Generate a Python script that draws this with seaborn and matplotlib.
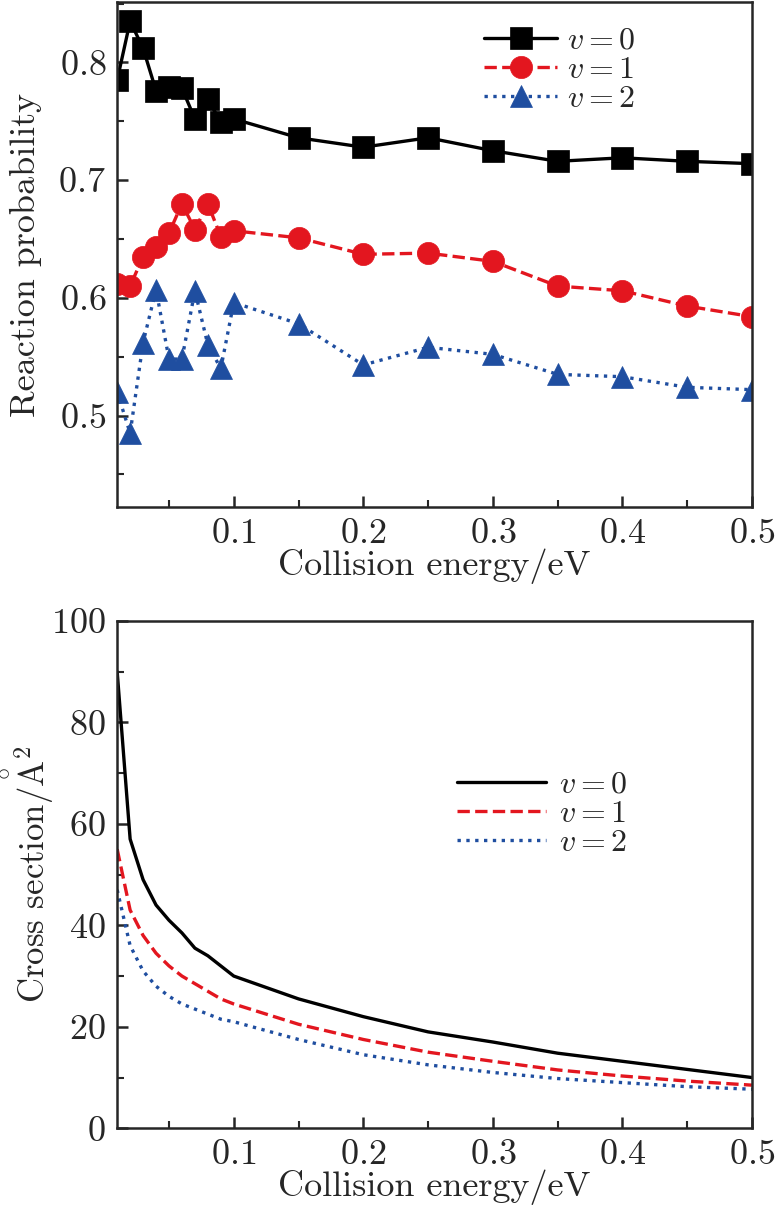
import numpy as np
import pandas as pd
import matplotlib
matplotlib.use('Agg')
import matplotlib.pyplot as plt
from matplotlib.ticker import MultipleLocator
import seaborn as sns

# collision energies (eV)
energy = [0.01, 0.02, 0.03, 0.04, 0.05, 0.06, 0.07, 0.08, 0.09, 0.10,
          0.15, 0.20, 0.25, 0.30, 0.35, 0.40, 0.45, 0.50]

# reaction probability, top panel
prob_v0 = [0.785, 0.835, 0.812, 0.776, 0.779, 0.778, 0.752, 0.769, 0.749, 0.752,
           0.736, 0.728, 0.736, 0.725, 0.716, 0.719, 0.716, 0.714]
prob_v1 = [0.612, 0.610, 0.635, 0.643, 0.655, 0.680, 0.658, 0.680, 0.652, 0.657,
           0.651, 0.637, 0.638, 0.631, 0.610, 0.606, 0.593, 0.584]
prob_v2 = [0.520, 0.485, 0.562, 0.607, 0.548, 0.548, 0.606, 0.560, 0.540, 0.596,
           0.578, 0.543, 0.558, 0.552, 0.535, 0.533, 0.524, 0.522]

# cross section (A^2), bottom panel
cs_v0 = [90.0, 57.0, 49.0, 44.0, 41.0, 38.5, 35.5, 34.0, 32.0, 30.0,
         25.5, 22.0, 19.0, 17.0, 14.8, 13.2, 11.6, 10.0]
cs_v1 = [55.0, 43.0, 38.0, 34.5, 32.0, 30.0, 28.5, 27.0, 25.5, 24.5,
         20.5, 17.5, 15.0, 13.2, 11.5, 10.3, 9.3, 8.5]
cs_v2 = [47.0, 36.0, 31.0, 28.0, 26.0, 24.5, 23.5, 22.5, 21.5, 21.0,
         17.5, 14.5, 12.5, 11.0, 9.8, 9.0, 8.2, 7.7]

labels = [r'$v=0$', r'$v=1$', r'$v=2$']
colors = ['black', '#e3161f', '#1f4ea0']
styles = ['-', '--', ':']
markers = ['s', 'o', '^']

sns.set_theme(style='ticks')
plt.rcParams['font.family'] = ['cmr10', 'DejaVu Serif']
plt.rcParams['mathtext.fontset'] = 'cm'
plt.rcParams['axes.formatter.use_mathtext'] = True
plt.rcParams['font.size'] = 26
plt.rcParams['axes.linewidth'] = 1.8
plt.rcParams['xtick.direction'] = 'in'
plt.rcParams['ytick.direction'] = 'in'

fig = plt.figure(figsize=(7.76, 12.08), dpi=100)
ax1 = fig.add_axes([0.151, 0.580, 0.818, 0.418])
ax2 = fig.add_axes([0.151, 0.066, 0.818, 0.420])

df_top = pd.DataFrame({'energy': energy, 'v0': prob_v0, 'v1': prob_v1, 'v2': prob_v2})
df_bot = pd.DataFrame({'energy': energy, 'v0': cs_v0, 'v1': cs_v1, 'v2': cs_v2})

for i, col in enumerate(['v0', 'v1', 'v2']):
    sns.lineplot(data=df_top, x='energy', y=col, ax=ax1, color=colors[i],
                 linestyle=styles[i], linewidth=2.4, marker=markers[i],
                 markersize=16, markeredgecolor=colors[i], markeredgewidth=0.5,
                 label=labels[i])
    sns.lineplot(data=df_bot, x='energy', y=col, ax=ax2, color=colors[i],
                 linestyle=styles[i], linewidth=2.4, label=labels[i])

for ax in (ax1, ax2):
    ax.set_xlim(0.01, 0.5)
    ax.xaxis.set_major_locator(MultipleLocator(0.1))
    ax.xaxis.set_minor_locator(MultipleLocator(0.05))
    ax.tick_params(which='major', length=8, width=1.8, labelsize=26, pad=8)
    ax.tick_params(which='minor', length=5, width=1.5)
    ax.tick_params(top=False, right=False, which='both')
    ax.set_xlabel('Collision energy/eV', fontsize=26, labelpad=-1)

ax1.set_ylim(0.422, 0.851)
ax1.yaxis.set_major_locator(MultipleLocator(0.1))
ax1.yaxis.set_minor_locator(MultipleLocator(0.05))
ax1.set_ylabel('Reaction probability', fontsize=26)
ax1.yaxis.set_label_coords(-0.118, 0.5)
ax1.legend(loc='upper left', bbox_to_anchor=(0.54, 1.0), frameon=False,
           fontsize=23, handlelength=2.3, handletextpad=0.3, labelspacing=0.02,
           borderpad=0.25)

ax2.set_ylim(0, 100)
ax2.yaxis.set_major_locator(MultipleLocator(20))
ax2.yaxis.set_minor_locator(MultipleLocator(10))
ax2.set_ylabel(r'Cross section/$\overset{\circ}{\mathrm{A}}^2$', fontsize=25)
ax2.yaxis.set_label_coords(-0.097, 0.5)
ax2.legend(loc='center left', bbox_to_anchor=(0.49, 0.62), frameon=False,
           fontsize=23, handlelength=2.8, handletextpad=0.4, labelspacing=0.02)

fig.savefig('out.png', dpi=100)
